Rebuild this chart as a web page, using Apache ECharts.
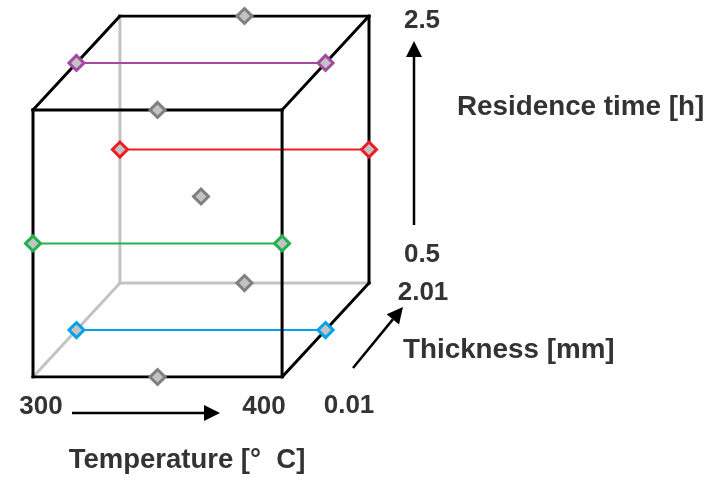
<!DOCTYPE html>
<html>
<head>
<meta charset="utf-8">
<script src="https://cdn.jsdelivr.net/npm/echarts@6/dist/echarts.min.js"></script>
<style>
  html, body { margin: 0; padding: 0; background: #fff; }
  #chart { width: 718px; height: 477px; }
</style>
</head>
<body>
<div id="chart"></div>
<script>
// Factor ranges of the three-factor design
const tempRange = [300, 400];      // Temperature [°C]
const thickRange = [0.01, 2.01];   // Thickness [mm]
const timeRange = [0.5, 2.5];      // Residence time [h]

// Design runs: [temperature, thickness, residence time]
const purpleRuns = [[300, 1.01, 2.5], [400, 1.01, 2.5]];
const redRuns    = [[300, 2.01, 1.5], [400, 2.01, 1.5]];
const greenRuns  = [[300, 0.01, 1.5], [400, 0.01, 1.5]];
const blueRuns   = [[300, 1.01, 0.5], [400, 1.01, 0.5]];
const grayRuns   = [[350, 2.01, 2.5], [350, 0.01, 2.5], [350, 1.01, 1.5], [350, 2.01, 0.5], [350, 0.01, 0.5]];

// Tick labels at the ends of each factor arrow
const tempTicks = ['300', '400'];
const thickTicks = ['0.01', '2.01'];
const timeTicks = ['0.5', '2.5'];
const axisTitles = ['Temperature [°  C]', 'Thickness [mm]', 'Residence time [h]'];

// Oblique projection: thickness recedes up and to the right
const DEPTH_X = 0.349, DEPTH_Y = 0.352;
function project(p) {
  const a = (p[0] - tempRange[0]) / (tempRange[1] - tempRange[0]);
  const b = (p[1] - thickRange[0]) / (thickRange[1] - thickRange[0]);
  const c = (p[2] - timeRange[0]) / (timeRange[1] - timeRange[0]);
  return [a + DEPTH_X * b, c + DEPTH_Y * b];
}

// Cube corners
const T0 = tempRange[0], T1 = tempRange[1];
const D0 = thickRange[0], D1 = thickRange[1];
const H0 = timeRange[0], H1 = timeRange[1];

const visibleEdges = [
  [[T0, D0, H0], [T1, D0, H0]], [[T1, D0, H0], [T1, D0, H1]],
  [[T1, D0, H1], [T0, D0, H1]], [[T0, D0, H1], [T0, D0, H0]],
  [[T0, D0, H1], [T0, D1, H1]], [[T0, D1, H1], [T1, D1, H1]],
  [[T1, D0, H1], [T1, D1, H1]], [[T1, D1, H1], [T1, D1, H0]],
  [[T1, D0, H0], [T1, D1, H0]]
];
const hiddenEdges = [
  [[T0, D1, H1], [T0, D1, H0]], [[T0, D1, H0], [T1, D1, H0]],
  [[T0, D0, H0], [T0, D1, H0]]
];

const series = [];
function edgeSeries(edge, color, width, z) {
  return {
    type: 'line', data: edge.map(project), symbol: 'none', silent: true, z: z,
    lineStyle: { color: color, width: width, cap: 'square' }, animation: false
  };
}
hiddenEdges.forEach(e => series.push(edgeSeries(e, '#c3c3c3', 3, 1)));

const groups = [
  { runs: purpleRuns, color: '#a349a4' },
  { runs: redRuns, color: '#ed1c24' },
  { runs: greenRuns, color: '#22b14c' },
  { runs: blueRuns, color: '#00a2e8' }
];
groups.forEach(g => series.push(edgeSeries(g.runs, g.color, 2, 2)));
visibleEdges.forEach(e => series.push(edgeSeries(e, '#000000', 3, 3)));

function markerSeries(runs, color) {
  return {
    type: 'scatter', data: runs.map(project), symbol: 'diamond', symbolSize: 15,
    z: 5, silent: true, animation: false,
    itemStyle: { color: '#c3c3c3', borderColor: color, borderWidth: 3, opacity: 1 }
  };
}
groups.forEach(g => series.push(markerSeries(g.runs, g.color)));
series.push(markerSeries(grayRuns, '#7f7f7f'));

// Annotation text and arrows
const FONT = '"Liberation Sans", Arial, sans-serif';
function label(text, x, y, size, align) {
  return {
    type: 'text', x: x, y: y, z: 10,
    style: {
      text: text, fill: '#333333', font: 'bold ' + size + 'px ' + FONT,
      align: align || 'center', verticalAlign: 'middle'
    }
  };
}
function arrow(x1, y1, x2, y2) {
  const dx = x2 - x1, dy = y2 - y1, len = Math.hypot(dx, dy);
  const ux = dx / len, uy = dy / len, headLen = 16, half = 8;
  const bx = x2 - ux * headLen, by = y2 - uy * headLen;
  return [
    { type: 'line', z: 10, shape: { x1: x1, y1: y1, x2: bx, y2: by },
      style: { stroke: '#000', lineWidth: 2.5 } },
    { type: 'polygon', z: 10,
      shape: { points: [[x2, y2], [bx - uy * half, by + ux * half], [bx + uy * half, by - ux * half]] },
      style: { fill: '#000' } }
  ];
}

const graphic = [
  label(timeTicks[1], 422, 21, 26),
  label(axisTitles[2], 457, 107, 27.8, 'left'),
  label(timeTicks[0], 422, 255, 26),
  label(thickTicks[1], 423, 293, 26),
  label(axisTitles[1], 403, 350, 27.8, 'left'),
  label(thickTicks[0], 349, 406, 26),
  label(tempTicks[0], 41, 407, 26),
  label(tempTicks[1], 264, 407, 26),
  label(axisTitles[0], 187, 460, 27.5)
].concat(arrow(72, 413, 220, 413), arrow(414, 225, 414, 41), arrow(353, 368, 403, 307));

const chart = echarts.init(document.getElementById('chart'));
chart.setOption({
  animation: false,
  backgroundColor: '#ffffff',
  grid: { left: 33, right: 349, top: 16, bottom: 100 },
  xAxis: { type: 'value', min: 0, max: 1 + DEPTH_X, show: false },
  yAxis: { type: 'value', min: 0, max: 1 + DEPTH_Y, show: false },
  series: series,
  graphic: graphic
});
</script>
</body>
</html>
